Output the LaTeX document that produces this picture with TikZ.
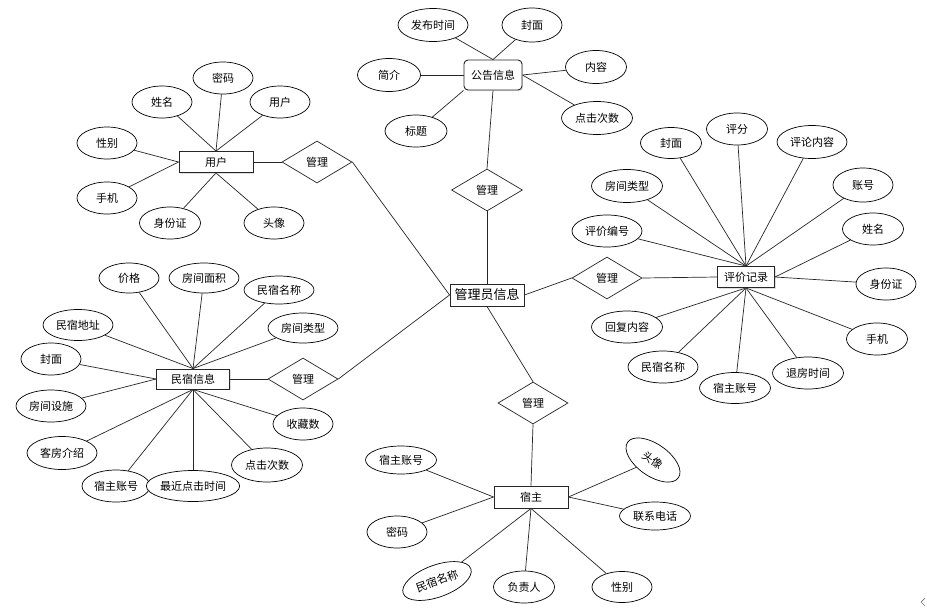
\documentclass[tikz,border=0pt]{standalone}
\usepackage{fontspec}
\setmainfont{Noto Sans CJK SC}
\usetikzlibrary{shapes.geometric,shadows,backgrounds}
\begin{document}
\begin{tikzpicture}[x=1pt,y=-1pt,
  lbl/.style={font=\fontsize{11}{13}\selectfont},
  attr/.style={ellipse, draw=black, fill=white, line width=0.7pt, minimum width=60pt, minimum height=32pt, inner sep=0pt, lbl},
  ent/.style={rectangle, draw=black!85, fill=white, line width=0.9pt, minimum height=21pt, inner sep=0pt, lbl,
     drop shadow={opacity=0.25, shadow xshift=1pt, shadow yshift=-1pt}},
  rel/.style={diamond, draw=black!85, fill=white, line width=0.7pt, minimum width=70pt, minimum height=42pt, inner sep=0pt, lbl},
  conn/.style={draw=black!85, line width=0.7pt}]
\useasboundingbox (0,0) rectangle (927,614);

% ---------- 用户 ----------
\node[ent, minimum width=74pt] (u) at (216,162) {用户};
\node[attr] (u1) at (223,78) {密码};
\node[attr] (u2) at (162,102) {姓名};
\node[attr] (u3) at (280,102) {用户};
\node[attr] (u4) at (107,143) {性别};
\node[attr] (u5) at (107,198) {手机};
\node[attr, minimum width=61pt] (u6) at (170,223) {身份证};
\node[attr] (u7) at (274,223) {头像};
\node[rel] (du) at (317,162) {管理};

% ---------- 民宿信息 ----------
\node[ent, minimum width=73pt, minimum height=20pt] (m) at (193,379) {民宿信息};
\node[rel] (dm) at (303,379) {管理};
\node[attr, minimum height=30pt] (m1) at (129,278) {价格};
\node[attr, minimum width=70pt, minimum height=30pt] (m2) at (204,278) {房间面积};
\node[attr, minimum width=70pt, minimum height=28pt] (m3) at (279,290) {民宿名称};
\node[attr, minimum width=70pt, minimum height=30pt] (m4) at (303,328) {房间类型};
\node[attr, minimum width=70pt, minimum height=31pt] (m5) at (78,325) {民宿地址};
\node[attr] (m6) at (51,359) {封面};
\node[attr, minimum width=70pt] (m7) at (51,406) {房间设施};
\node[attr] (m8) at (303,424) {收藏数};
\node[attr, minimum width=70pt, minimum height=33pt] (m9) at (62,453) {客房介绍};
\node[attr, minimum width=71pt, minimum height=34pt] (m10) at (267,465) {点击次数};
\node[attr, minimum width=68pt] (m11) at (116,486) {宿主账号};
\node[attr, minimum width=91pt, minimum height=31pt] (m12) at (193,486) {最近点击时间};

% ---------- 公告信息 ----------
\node[ent, rounded corners=4pt, minimum width=58pt, minimum height=30pt] (g) at (493,75) {公告信息};
\node[attr, minimum width=70pt, minimum height=33pt] (g1) at (433,25) {发布时间};
\node[attr, minimum height=34pt] (g2) at (532,25) {封面};
\node[attr, minimum width=61pt, minimum height=33pt] (g3) at (596,67) {内容};
\node[attr, minimum width=63pt, minimum height=33pt] (g4) at (389,75) {简介};
\node[attr, minimum width=62pt] (g5) at (416,131) {标题};
\node[attr, minimum width=71pt, minimum height=33pt] (g6) at (597,118) {点击次数};
\node[rel, minimum width=71pt] (dg) at (487,190) {管理};

% ---------- 管理员信息 ----------
\node[ent, minimum width=74pt, minimum height=22pt, font=\fontsize{13}{15}\selectfont] (a) at (487,295) {管理员信息};

% ---------- 评价记录 ----------
\node[ent, minimum width=57pt] (p) at (746,277) {评价记录};
\node[rel] (dp) at (607,278) {管理};
\node[attr, minimum width=61pt, minimum height=31pt] (p1) at (671,143) {封面};
\node[attr, minimum width=61pt] (p2) at (737,129) {评分};
\node[attr, minimum width=70pt, minimum height=33pt] (p3) at (812,142) {评论内容};
\node[attr, minimum width=71pt, minimum height=33pt] (p4) at (627,186) {房间类型};
\node[attr, minimum height=34pt] (p5) at (863,185) {账号};
\node[attr, minimum width=70pt] (p6) at (607,231) {评价编号};
\node[attr, minimum width=61pt] (p7) at (873,229) {姓名};
\node[attr] (p8) at (886,284) {身份证};
\node[attr, minimum width=71pt] (p9) at (627,327) {回复内容};
\node[attr, minimum width=61pt] (p10) at (877,339) {手机};
\node[attr, minimum width=70pt] (p11) at (663,367) {民宿名称};
\node[attr, minimum width=71pt, minimum height=31pt] (p12) at (735,388) {宿主账号};
\node[attr, minimum width=71pt] (p13) at (808,373) {退房时间};

% ---------- 宿主 ----------
\node[rel] (dh) at (533,403) {管理};
\node[ent, minimum width=74pt, minimum height=22pt] (s) at (531,497) {宿主};
\node[attr, minimum width=71pt, minimum height=28pt] (s1) at (401,460) {宿主账号};
\node[attr] (s2) at (397,532) {密码};
\node[attr, minimum width=72pt, rotate=20] (s3) at (437,581) {民宿名称};
\node[attr, minimum width=61pt] (s4) at (524,587) {负责人};
\node[attr, minimum height=31pt] (s5) at (622,587) {性别};
\node[attr, minimum width=71pt, minimum height=28pt] (s6) at (655,516) {联系电话};
\node[attr, minimum width=62pt, rotate=-35] (s7) at (653,460) {头像};

\begin{scope}[on background layer]
\fill[white] (0,0) rectangle (927,614);
% 用户
\foreach \n in {u1,u2,u3} \draw[conn] (\n) -- (u.north);
\foreach \n in {u4,u5} \draw[conn] (\n) -- (u.west);
\foreach \n in {u6,u7} \draw[conn] (\n) -- (u.south);
\draw[conn] (u.east) -- (du.west);
\draw[conn] (du.east) -- (a.west);
% 民宿信息
\foreach \n in {m1,m2,m3,m4,m5} \draw[conn] (\n) -- (m.north);
\foreach \n in {m6,m7} \draw[conn] (\n) -- (m.west);
\foreach \n in {m8,m9,m10,m11,m12} \draw[conn] (\n) -- (m.south);
\draw[conn] (m.east) -- (dm.west);
\draw[conn] (dm.east) -- (a.west);
% 公告信息
\foreach \n in {g1,g2} \draw[conn] (\n) -- (g.north);
\draw[conn] (g4) -- (g.west);
\draw[conn] (g5) -- (g.south west);
\foreach \n in {g3,g6} \draw[conn] (\n) -- (g.east);
\draw[conn] (g.south) -- (dg.north);
\draw[conn] (dg.south) -- (a.north);
% 评价记录
\foreach \n in {p1,p2,p3,p4,p5,p6} \draw[conn] (\n) -- (p.north);
\foreach \n in {p7,p8} \draw[conn] (\n) -- (p.east);
\foreach \n in {p9,p10,p11,p12,p13} \draw[conn] (\n) -- (p.south);
\draw[conn] (a.east) -- (dp.west);
\draw[conn] (dp.east) -- (p.west);
% 宿主
\draw[conn] (a.south) -- (dh.north);
\draw[conn] (dh.south) -- (s.north);
\foreach \n in {s1,s2} \draw[conn] (\n) -- (s.west);
\foreach \n in {s3,s4,s5} \draw[conn] (\n) -- (s.south);
\foreach \n in {s6,s7} \draw[conn] (\n) -- (s.east);
\end{scope}

% small mark in the corner
\coordinate (k1) at (925,598);
\coordinate (k2) at (921,602);
\coordinate (k3) at (925,606);
\draw[black!55, line width=0.7pt] (k1) -- (k2) -- (k3);
\end{tikzpicture}
\end{document}
